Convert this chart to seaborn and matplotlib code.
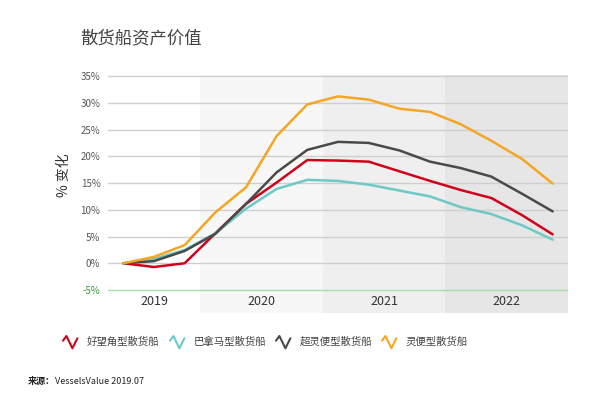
import numpy as np
import pandas as pd
import seaborn as sns
import matplotlib.pyplot as plt
from matplotlib.lines import Line2D

# 季度数据 2019Q1 - 2022Q3
quarters = list(range(15))
capesize = [0, -0.7, 0, 5.6, 11.1, 15.1, 19.3, 19.2, 19.0, 17.2, 15.4, 13.7, 12.2, 9.0, 5.4]
panamax = [0, 0.8, 2.5, 5.6, 10.2, 13.9, 15.6, 15.4, 14.7, 13.6, 12.5, 10.5, 9.2, 7.1, 4.4]
supramax = [0, 0.4, 2.3, 5.5, 11.1, 17.0, 21.2, 22.7, 22.5, 21.1, 19.0, 17.8, 16.2, 13.0, 9.7]
handysize = [0, 1.2, 3.4, 9.5, 14.2, 23.8, 29.7, 31.2, 30.6, 28.9, 28.3, 26.0, 22.9, 19.5, 14.9]

names = ['好望角型散货船', '巴拿马型散货船', '超灵便型散货船', '灵便型散货船']
colors = ['#d0021b', '#6ec9c6', '#4a4a4a', '#f5a623']
years = ['2019', '2020', '2021', '2022']
year_spans = [(-0.5, 2.5), (2.5, 6.5), (6.5, 10.5), (10.5, 14.5)]
band_colors = ['#ffffff', '#f7f7f7', '#efefef', '#e6e6e6']
yticks = [-5, 0, 5, 10, 15, 20, 25, 30, 35]

df = pd.concat([
    pd.DataFrame({'季度': quarters, '变化': vals, '船型': n})
    for n, vals in zip(names, [capesize, panamax, supramax, handysize])
])

sns.set_style('white')
plt.rcParams['font.family'] = ['Noto Sans CJK SC', 'DejaVu Sans']

fig = plt.figure(figsize=(6.02, 4.01), dpi=100)
ax = fig.add_axes([108/602, 1-313/401, 460/602, 238/401])

for (a, b), c in zip(year_spans, band_colors):
    ax.axvspan(a, b, color=c, lw=0, zorder=0)

for t in yticks:
    ax.axhline(t, color='#a8dca8' if t < 0 else '#cfcfcf', lw=1, zorder=1)

sns.lineplot(data=df, x='季度', y='变化', hue='船型', palette=colors,
             lw=1.8, legend=False, ax=ax, zorder=3)

ax.set_xlim(-0.5, 14.5)
ax.set_ylim(-9.3, 35.2)
ax.set_yticks(yticks)
ax.set_yticklabels([f'{t}%' for t in yticks], fontsize=7, color='#555555')
ax.get_yticklabels()[0].set_color('#3a9a3a')
ax.tick_params(axis='y', length=0, pad=5.5)
ax.set_xticks([])
ax.set_xlabel('')
ax.set_ylabel('')
for s in ax.spines.values():
    s.set_visible(False)

for (a, b), y in zip(year_spans, years):
    ax.text((a + b) / 2, -7.2, y, ha='center', va='center', fontsize=9, color='#333333')

fig.text(80/602, 1-38/401, '散货船资产价值', fontsize=12.5, color='#444444', va='center')
fig.text(64/602, 1-175/401, '% 变化', fontsize=10, color='#333333', rotation=90,
         ha='center', va='center')

# 图例
icon_x = [63, 170, 276, 382]
for x0, n, c in zip(icon_x, names, colors):
    xs = np.array([0, 3.4, 9.4, 14.4]) + x0
    ys = np.array([340.7, 336, 348.3, 338.3])
    fig.add_artist(Line2D(xs/602, 1-ys/401, color=c, lw=1.5, transform=fig.transFigure))
    fig.text((x0+24)/602, 1-342/401, n, fontsize=7.5, color='#444444', va='center')

fig.text(28/602, 1-381/401, '来源：', fontsize=6.5, color='#222222', weight='bold', va='center')
fig.text(55/602, 1-381/401, 'VesselsValue 2019.07', fontsize=6.5, color='#222222', va='center')

fig.savefig('out.png', dpi=100)
